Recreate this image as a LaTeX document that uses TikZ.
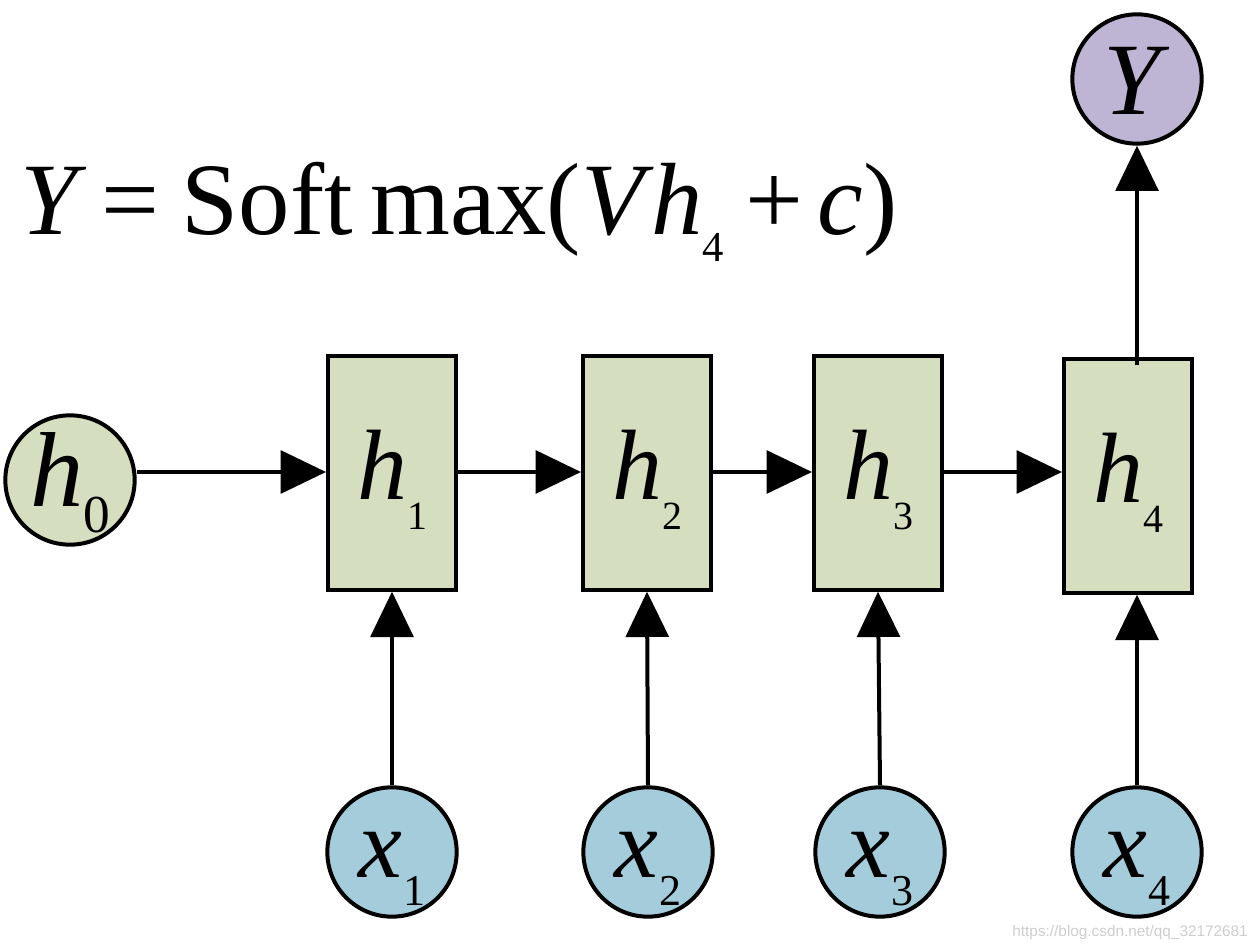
\documentclass[tikz,border=0pt]{standalone}
\usepackage{fontspec}
\setmainfont{Liberation Serif}
\newfontfamily\wmfont{Liberation Sans}
\usetikzlibrary{arrows.meta}
\definecolor{boxgreen}{RGB}{214,222,192}
\definecolor{inblue}{RGB}{164,204,219}
\definecolor{outpurple}{RGB}{190,180,212}
\definecolor{wmgray}{RGB}{205,205,205}
% #1 letter, #2 subscript, #3 letter size, #4 subscript size, #5 subscript drop, #6 baseline shift, #7 kern
\newcommand{\mylab}[7]{\raisebox{#6}[0pt][0pt]{\fontsize{#3}{#3}\selectfont\textit{#1}\kern#7\raisebox{#5}{\fontsize{#4}{#4}\selectfont #2}}}
\tikzset{
  cellbox/.style={draw=black, line width=3pt, fill=boxgreen, minimum width=96pt, minimum height=175pt, inner sep=0pt},
  circnode/.style={draw=black, line width=3pt, circle, minimum size=97pt, inner sep=0pt},
  conn/.style={line width=3pt, -{Triangle[length=34pt,width=32pt]}},
}
\begin{document}
\begin{tikzpicture}[x=0.75pt,y=-0.75pt]
\useasboundingbox (0,0) rectangle (1256,948);
% formula
\node[anchor=base west, inner sep=0pt] (eq) at (20,235) {\fontsize{77}{80}\selectfont\textit{Y}\kern 11pt=\kern 17pt Soft\kern 13pt max(\textit{V}\kern-2pt\textit{h}\kern0pt\raisebox{-20pt}{\fontsize{32}{32}\selectfont 4}\kern 16pt+\kern 11pt\textit{c})};
% cells
\node[cellbox] (h1) at (392,473) {\mylab{h}{1}{75}{30}{-22pt}{-20pt}{0pt}};
\node[cellbox] (h2) at (647,473) {\mylab{h}{2}{75}{30}{-22pt}{-20pt}{0pt}};
\node[cellbox] (h3) at (878,473) {\mylab{h}{3}{75}{30}{-22pt}{-20pt}{0pt}};
\node[cellbox] (h4) at (1128,476) {\mylab{h}{4}{75}{30}{-22pt}{-20pt}{0pt}};
% circles
\node[circnode, fill=boxgreen] (h0) at (70,480) {\mylab{h}{0}{80}{40}{-19pt}{-20pt}{0pt}};
\node[circnode, fill=outpurple] (Y) at (1137,79) {\raisebox{-27pt}[0pt][0pt]{\fontsize{77}{77}\selectfont\textit{Y}}};
\node[circnode, fill=inblue] (x1) at (392,852) {\mylab{x}{1}{74}{33}{-21pt}{-19pt}{1pt}};
\node[circnode, fill=inblue] (x2) at (648,852) {\mylab{x}{2}{74}{33}{-21pt}{-19pt}{1pt}};
\node[circnode, fill=inblue] (x3) at (880,852) {\mylab{x}{3}{74}{33}{-21pt}{-19pt}{1pt}};
\node[circnode, fill=inblue] (x4) at (1137,852) {\mylab{x}{4}{74}{33}{-21pt}{-19pt}{1pt}};
% connectors
\draw[conn] (h0.east |- 0,472) -- (h1.west |- 0,472);
\draw[conn] (h1.east |- 0,472) -- (h2.west |- 0,472);
\draw[conn] (h2.east |- 0,472) -- (h3.west |- 0,472);
\draw[conn] (h3.east |- 0,472) -- (h4.west |- 0,472);
\draw[conn] (x1.north) -- (h1.south);
\draw[conn] (x2.north) -- (h2.south);
\draw[conn] (x3.north) -- (h3.south);
\draw[conn] (x4.north) -- (x4.north |- h4.south);
\draw[conn] ([yshift=-6pt]h4.north -| Y.south) -- (Y.south);
% watermark
\node[anchor=south east, inner sep=0pt, text=wmgray] (wm) at (1248,940) {\wmfont\fontsize{11.5}{12}\selectfont https://blog.csdn.net/qq\_32172681};
\end{tikzpicture}
\end{document}
